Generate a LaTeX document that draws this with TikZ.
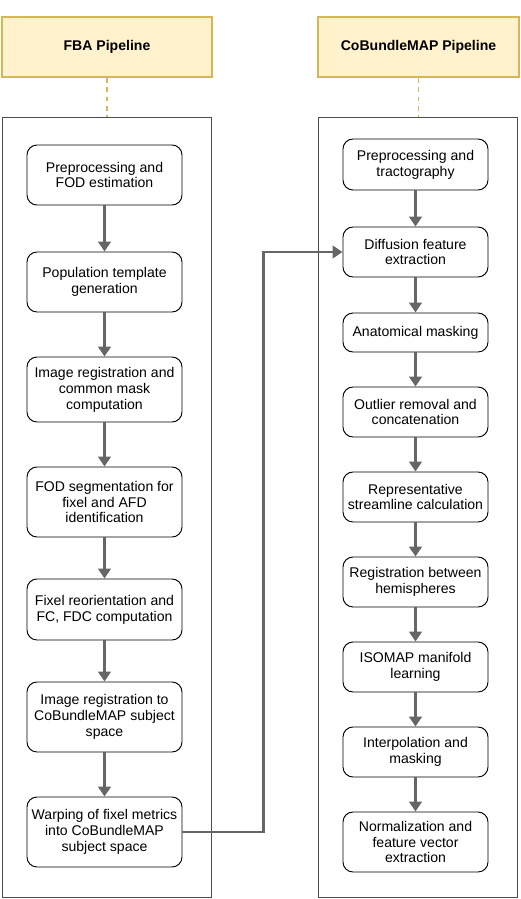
\documentclass[tikz,border=0pt]{standalone}
\usepackage{fontspec}
\setmainfont{Liberation Sans}
\usetikzlibrary{arrows.meta}
\definecolor{hdrfill}{HTML}{FFF2CC}
\definecolor{hdrline}{HTML}{D6B656}
\definecolor{flowgray}{HTML}{666666}
\begin{document}
\begin{tikzpicture}[x=0.03cm, y=-0.03cm,
  every node/.style={font=\fontsize{12}{13.6}\selectfont, align=center},
  header/.style={draw=hdrline, fill=hdrfill, line width=1.6pt, minimum height=1.8cm, font=\fontsize{12}{13.6}\selectfont\bfseries},
  lane/.style={draw=black!70, line width=0.6pt, minimum height=23.4cm},
  stepbox/.style={draw, rounded corners=0.3cm, line width=0.8pt, inner sep=0pt},
  flow/.style={-{Triangle[length=0.3cm,width=0.38cm]}, draw=flowgray, line width=2.4pt},
  link/.style={draw=hdrline, line width=1.2pt, dash pattern=on 4pt off 4pt}]
\useasboundingbox (0,0) rectangle (520,899);
% headers and lanes
\node (FBA) at (107,47) [header, minimum width=6.3cm] {FBA Pipeline};
\node (CBM) at (418.5,47) [header, minimum width=6.03cm] {CoBundleMAP Pipeline};
\node (FBAL) at (106.5,507) [lane, minimum width=6.27cm] {};
\node (CBML) at (417.5,507) [lane, minimum width=5.97cm] {};
\draw [link] (FBA) to (FBA |- FBAL.north);
\draw [link] (CBM) to (CBM |- CBML.north);

% FBA steps
\node (F1) at (104.5,175) [stepbox, minimum width=4.65cm, minimum height=1.8cm] {Preprocessing and\\FOD estimation};
\node (F2) at (104.5,282) [stepbox, minimum width=4.65cm, minimum height=1.8cm] {Population template\\generation};
\node (F3) at (104.5,389.5) [stepbox, minimum width=4.65cm, minimum height=1.95cm] {Image registration and\\common mask\\computation};
\node (F4) at (104.5,502) [stepbox, minimum width=4.65cm, minimum height=2.1cm] {FOD segmentation for\\fixel and AFD\\identification};
\node (F5) at (104.5,609.5) [stepbox, minimum width=4.65cm, minimum height=1.83cm] {Fixel reorientation and\\FC, FDC computation};
\node (F6) at (104.5,717) [stepbox, minimum width=4.65cm, minimum height=2.1cm] {Image registration to\\CoBundleMAP subject\\space};
\node (F7) at (104.5,832) [stepbox, minimum width=4.65cm, minimum height=2.1cm] {Warping of fixel metrics\\into CoBundleMAP\\subject space};

% CoBundleMAP steps
\node (C1) at (415.5,164.5) [stepbox, minimum width=4.35cm, minimum height=1.53cm] {Preprocessing and\\tractography};
\node (C2) at (415.5,252) [stepbox, minimum width=4.35cm, minimum height=1.5cm] {Diffusion feature\\extraction};
\node (C3) at (415.5,332.5) [stepbox, minimum width=4.35cm, minimum height=1.17cm] {Anatomical masking};
\node (C4) at (415.5,412) [stepbox, minimum width=4.35cm, minimum height=1.5cm] {Outlier removal and\\concatenation};
\node (C5) at (415.5,497) [stepbox, minimum width=4.35cm, minimum height=1.5cm] {Representative\\streamline calculation};
\node (C6) at (415.5,582) [stepbox, minimum width=4.35cm, minimum height=1.5cm] {Registration between\\hemispheres};
\node (C7) at (415.5,667) [stepbox, minimum width=4.35cm, minimum height=1.5cm] {ISOMAP manifold\\learning};
\node (C8) at (415.5,752) [stepbox, minimum width=4.35cm, minimum height=1.5cm] {Interpolation and\\masking};
\node (C9) at (415.5,842) [stepbox, minimum width=4.35cm, minimum height=1.8cm] {Normalization and\\feature vector\\extraction};

\foreach \a/\b in {F1/F2,F2/F3,F3/F4,F4/F5,F5/F6,F6/F7}
  \draw [flow] (\a) to (\b);
\foreach \a/\b in {C1/C2,C2/C3,C3/C4,C4/C5,C5/C6,C6/C7,C7/C8,C8/C9}
  \draw [flow] (\a) to (\b);
\draw [flow] (F7.east) -- ++(81,0) |- (C2.west);
\end{tikzpicture}
\end{document}
